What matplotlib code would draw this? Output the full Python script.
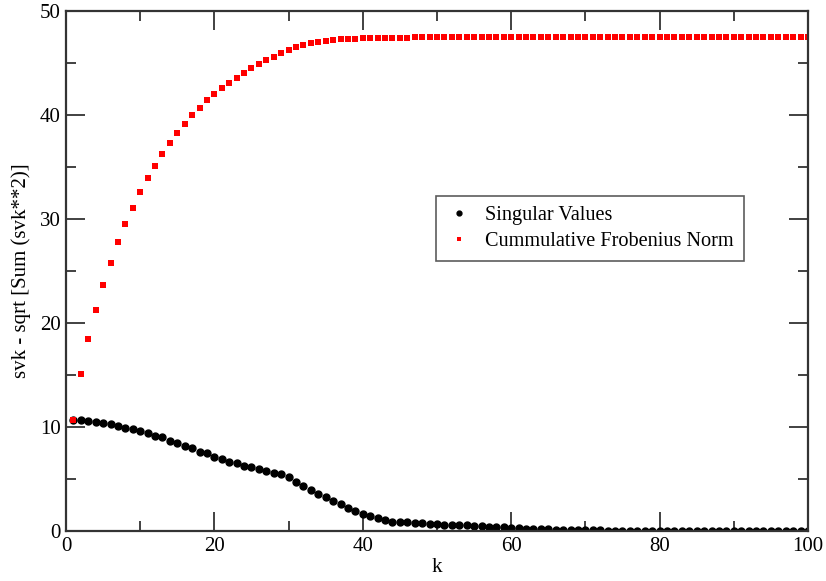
import matplotlib
matplotlib.use("Agg")
import matplotlib.pyplot as plt
import numpy as np
from matplotlib.ticker import MultipleLocator

# singular values, k = 1..100
sv_head = [10.67, 10.67, 10.61, 10.51, 10.42, 10.26, 10.10, 9.94, 9.84, 9.62,
           9.39, 9.17, 9.01, 8.69, 8.49, 8.17, 8.01, 7.63, 7.47, 7.12,
           6.95, 6.63, 6.51, 6.28, 6.12, 5.93, 5.77, 5.61, 5.51, 5.16,
           4.74, 4.33, 3.94, 3.59, 3.27, 2.92, 2.56, 2.24, 1.92, 1.67,
           1.44, 1.22, 1.03, 0.90, 0.87, 0.87, 0.80, 0.74, 0.70, 0.64,
           0.62, 0.60, 0.57, 0.54, 0.50, 0.46, 0.42, 0.38, 0.34, 0.30,
           0.27, 0.24, 0.21, 0.18, 0.16, 0.14, 0.12, 0.10, 0.09, 0.08,
           0.07, 0.06, 0.05, 0.05, 0.04]
sv_tail = [0.03] * 10 + [0.02] * 10 + [0.01] * 5
singular = sv_head + sv_tail

# cumulative Frobenius norm
cum_head = [10.67, 15.07, 18.43, 21.25, 23.65, 25.80, 27.76, 29.49, 31.09, 32.57,
            33.91, 35.13, 36.28, 37.34, 38.27, 39.17, 39.97, 40.70, 41.41, 41.99,
            42.57, 43.11, 43.59, 44.07, 44.49, 44.90, 45.25, 45.61, 45.93, 46.25,
            46.51, 46.73, 46.89, 47.02, 47.12, 47.21, 47.28, 47.31, 47.34, 47.37,
            47.39, 47.41, 47.42, 47.43, 47.44, 47.45, 47.46, 47.47, 47.47, 47.48]
cum_tail = [47.48] * 10 + [47.49] * 15 + [47.50] * 25
cumulative = cum_head + cum_tail

k = np.arange(1, len(singular) + 1)

plt.rcParams["font.family"] = ["Liberation Serif", "DejaVu Serif"]

fig = plt.figure(figsize=(8.26, 5.81), dpi=100)
ax = fig.add_axes([0.0799, 0.086, 0.8983, 0.895])

ax.plot(k, singular, "o", color="black", markersize=5, linestyle="none",
        label="Singular Values")
ax.plot(k, cumulative, "s", color="red", markersize=4.2, markeredgewidth=0,
        linestyle="none", label="Cummulative Frobenius Norm")

ax.set_xlim(0, 100)
ax.set_ylim(0, 50)
ax.xaxis.set_major_locator(MultipleLocator(20))
ax.xaxis.set_minor_locator(MultipleLocator(10))
ax.yaxis.set_major_locator(MultipleLocator(10))
ax.yaxis.set_minor_locator(MultipleLocator(5))
ax.tick_params(which="both", direction="in", top=True, right=True,
               labelsize=15, color="#333333", width=1.3)
ax.tick_params(which="major", length=14, pad=4)
ax.tick_params(which="minor", length=7)
for sp in ax.spines.values():
    sp.set_linewidth(1.6)
    sp.set_color("#333333")

ax.set_xlabel("k", fontsize=15, labelpad=2)
ax.set_ylabel("svk - sqrt [Sum (svk**2)]", fontsize=15, labelpad=6)

leg = ax.legend(loc="upper left", bbox_to_anchor=(0.499, 0.644), fontsize=14.6,
                frameon=True, fancybox=False, edgecolor="#333333",
                borderaxespad=0, handlelength=1.2, handletextpad=0.7,
                borderpad=0.5, labelspacing=0.3, markerscale=0.7)
leg.get_frame().set_linewidth(1.2)

fig.savefig("out.png", dpi=100)
